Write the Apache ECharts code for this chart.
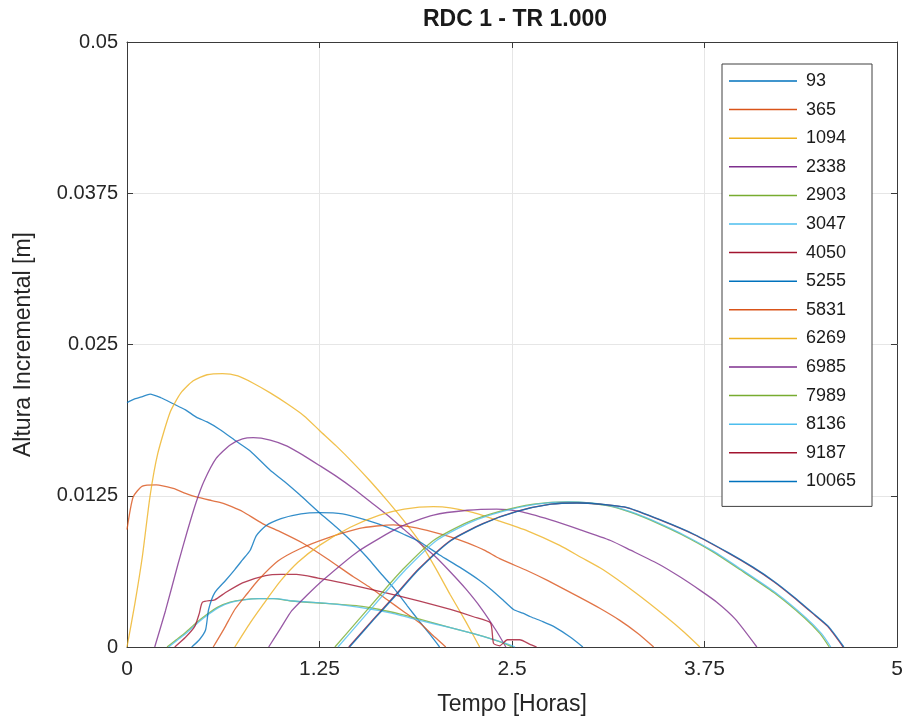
<!DOCTYPE html>
<html>
<head>
<meta charset="utf-8">
<script src="https://cdn.jsdelivr.net/npm/echarts@6/dist/echarts.min.js"></script>
<style>
html,body{margin:0;padding:0;background:#fff;}
#chart{width:910px;height:724px;}
</style>
</head>
<body>
<div id="chart"></div>
<script>
// ---- data (x = Tempo [Horas], y = Altura Incremental [m]) ----
const seriesNames = ['93','365','1094','2338','2903','3047','4050','5255','5831','6269','6985','7989','8136','9187','10065'];
const xTicks = [0, 1.25, 2.5, 3.75, 5];
const yTicks = [0, 0.0125, 0.025, 0.0375, 0.05];

const s93 = [[0,0.0202],[0.05,0.0205],[0.1,0.0207],[0.15,0.0209],[0.22,0.0206],[0.3,0.0201],[0.38,0.0196],[0.45,0.0190],[0.52,0.0186],[0.6,0.0180],[0.71,0.0170],[0.8,0.0162],[0.93,0.0146],[1.02,0.0137],[1.12,0.0126],[1.25,0.0111],[1.36,0.0099],[1.47,0.0086],[1.56,0.0074],[1.64,0.0062],[1.73,0.0049],[1.82,0.0034],[1.9,0.0021],[1.97,0.0010],[2.03,0]];
const s365 = [[0,0.0097],[0.04,0.0124],[0.1,0.0133],[0.19,0.0134],[0.3,0.0131],[0.38,0.0127],[0.45,0.0124],[0.55,0.0121],[0.62,0.0119],[0.68,0.0116],[0.75,0.0112],[0.88,0.0102],[1.0,0.0095],[1.14,0.0086],[1.3,0.0073],[1.47,0.0058],[1.58,0.0049],[1.69,0.0039],[1.8,0.0029],[1.9,0.0020],[2.0,0.0008],[2.07,0]];
const s1094 = [[0,0],[0.05,0.0035],[0.1,0.0075],[0.15,0.0125],[0.2,0.0160],[0.28,0.0194],[0.35,0.0210],[0.43,0.0220],[0.52,0.0225],[0.62,0.0226],[0.72,0.0224],[0.82,0.0218],[0.93,0.0210],[1.04,0.0201],[1.15,0.0191],[1.25,0.0179],[1.36,0.0166],[1.47,0.0152],[1.58,0.0137],[1.69,0.0121],[1.8,0.0104],[1.9,0.0087],[2.0,0.0066],[2.1,0.0043],[2.2,0.0021],[2.29,0]];
const s2338 = [[0.18,0],[0.25,0.0030],[0.33,0.0068],[0.39,0.0095],[0.45,0.0120],[0.5,0.0137],[0.58,0.0156],[0.67,0.0167],[0.75,0.0172],[0.82,0.0173],[0.93,0.0171],[1.04,0.0166],[1.15,0.0158],[1.25,0.0150],[1.36,0.0141],[1.47,0.0131],[1.58,0.0120],[1.69,0.0109],[1.8,0.0097],[1.9,0.0086],[2.0,0.0075],[2.1,0.0062],[2.2,0.0048],[2.3,0.0032],[2.4,0.0013],[2.46,0]];
const s2903 = [[0.26,0],[0.32,0.0006],[0.38,0.0012],[0.45,0.0020],[0.52,0.0027],[0.59,0.0033],[0.67,0.0037],[0.75,0.0039],[0.85,0.0040],[0.95,0.0040],[1.07,0.0038],[1.29,0.0036],[1.5,0.0034],[1.64,0.0031],[1.78,0.0027],[1.9,0.0023],[2.1,0.0016],[2.25,0.0011],[2.36,0.0007],[2.45,0.0003],[2.5,0]];
const s3047 = [[0.27,0],[0.33,0.0006],[0.39,0.0012],[0.46,0.0020],[0.53,0.0027],[0.6,0.0033],[0.68,0.0037],[0.76,0.0039],[0.86,0.0040],[0.96,0.0040],[1.08,0.0038],[1.3,0.0036],[1.5,0.0033],[1.64,0.0030],[1.78,0.0026],[1.9,0.0022],[2.1,0.0016],[2.25,0.0011],[2.36,0.0007],[2.46,0.0003],[2.52,0]];
const s4050 = [[0.31,0],[0.38,0.0008],[0.44,0.0017],[0.47,0.0028],[0.49,0.0037],[0.57,0.0039],[0.64,0.0045],[0.75,0.0053],[0.9,0.0059],[1.0,0.0060],[1.1,0.0060],[1.24,0.0057],[1.4,0.0053],[1.64,0.0046],[1.9,0.0038],[2.1,0.0031],[2.25,0.0025],[2.36,0.0020],[2.38,0.0003],[2.42,0.0001],[2.47,0.0006],[2.55,0.0006],[2.62,0.0002],[2.66,0]];
const s5255 = [[0.42,0],[0.47,0.0006],[0.51,0.0014],[0.53,0.0031],[0.57,0.0045],[0.64,0.0055],[0.7,0.0064],[0.75,0.0072],[0.8,0.0080],[0.84,0.0092],[0.9,0.0100],[1.0,0.0106],[1.13,0.0110],[1.25,0.0111],[1.4,0.0110],[1.55,0.0105],[1.69,0.0099],[1.8,0.0093],[1.9,0.0087],[2.03,0.0076],[2.16,0.0066],[2.29,0.0055],[2.37,0.0047],[2.44,0.0039],[2.51,0.0031],[2.57,0.0028],[2.62,0.0025],[2.7,0.0021],[2.77,0.0017],[2.88,0.0008],[2.96,0]];
const s5831 = [[0.56,0],[0.63,0.0015],[0.7,0.0031],[0.78,0.0044],[0.85,0.0055],[0.98,0.0071],[1.12,0.0081],[1.3,0.0090],[1.51,0.0098],[1.62,0.0100],[1.73,0.0101],[1.85,0.0099],[1.99,0.0095],[2.1,0.0091],[2.21,0.0086],[2.32,0.0080],[2.42,0.0073],[2.6,0.0063],[2.73,0.0055],[2.94,0.0041],[3.07,0.0032],[3.2,0.0022],[3.32,0.0011],[3.42,0]];
const s6269 = [[0.7,0],[0.8,0.0020],[0.9,0.0038],[1.0,0.0055],[1.11,0.0070],[1.25,0.0084],[1.45,0.0099],[1.64,0.0109],[1.8,0.0114],[1.99,0.0116],[2.1,0.0115],[2.25,0.0111],[2.42,0.0104],[2.6,0.0096],[2.81,0.0084],[2.95,0.0074],[3.09,0.0064],[3.3,0.0045],[3.5,0.0025],[3.62,0.0012],[3.72,0]];
const s6985 = [[0.92,0],[1.0,0.0016],[1.07,0.0030],[1.17,0.0043],[1.27,0.0055],[1.5,0.0079],[1.77,0.0099],[1.99,0.0109],[2.21,0.0113],[2.4,0.0114],[2.55,0.0112],[2.75,0.0105],[2.94,0.0097],[3.14,0.0088],[3.27,0.0080],[3.46,0.0068],[3.59,0.0058],[3.72,0.0047],[3.83,0.0037],[3.95,0.0023],[4.09,0]];
const s7989 = [[1.35,0],[1.5,0.0022],[1.65,0.0044],[1.79,0.0064],[1.99,0.0088],[2.21,0.0103],[2.42,0.0112],[2.64,0.0118],[2.86,0.0120],[3.0,0.0119],[3.15,0.0116],[3.3,0.0110],[3.45,0.0102],[3.6,0.0093],[3.8,0.0079],[3.98,0.0064],[4.2,0.0045],[4.4,0.0024],[4.5,0.0011],[4.56,0]];
const s8136 = [[1.37,0],[1.52,0.0022],[1.67,0.0044],[1.81,0.0064],[2.01,0.0088],[2.23,0.0103],[2.44,0.0112],[2.66,0.0118],[2.87,0.0120],[3.01,0.0119],[3.16,0.0116],[3.31,0.0110],[3.46,0.0102],[3.61,0.0093],[3.81,0.0079],[3.99,0.0064],[4.21,0.0045],[4.41,0.0024],[4.51,0.0011],[4.57,0]];
const s9187 = [[1.44,0],[1.6,0.0023],[1.75,0.0044],[1.89,0.0064],[2.1,0.0088],[2.31,0.0102],[2.53,0.0112],[2.75,0.0118],[2.92,0.0119],[3.07,0.0118],[3.25,0.0115],[3.46,0.0105],[3.68,0.0093],[3.9,0.0078],[4.06,0.0066],[4.2,0.0054],[4.32,0.0042],[4.45,0.0028],[4.55,0.0017],[4.65,0]];
const s10065 = [[1.445,0],[1.605,0.0023],[1.755,0.0044],[1.895,0.0064],[2.105,0.0088],[2.315,0.0102],[2.535,0.0112],[2.755,0.0118],[2.925,0.0119],[3.075,0.0118],[3.255,0.0115],[3.465,0.0105],[3.685,0.0093],[3.905,0.0078],[4.065,0.0066],[4.205,0.0054],[4.325,0.0042],[4.455,0.0028],[4.555,0.0017],[4.655,0]];

const seriesData = [s93,s365,s1094,s2338,s2903,s3047,s4050,s5255,s5831,s6269,s6985,s7989,s8136,s9187,s10065];
const palette = ['#0072BD','#D95319','#EDB120','#7E2F8E','#77AC30','#4DBEEE','#A2142F'];

const FONT = '"Liberation Sans", Arial, sans-serif';
const chart = echarts.init(document.getElementById('chart'), null, {renderer:'canvas'});

const series = seriesNames.map((n, i) => ({
  name: n,
  type: 'line',
  data: seriesData[i],
  showSymbol: false,
  smooth: 0.2,
  lineStyle: {width: 1.3, color: palette[i % palette.length], opacity: 0.8},
  itemStyle: {color: palette[i % palette.length]},
  xAxisIndex: 0, yAxisIndex: 0,
  animation: false
}));

const axisLineCol = '#3a3a3a';
chart.setOption({
  backgroundColor: '#ffffff',
  animation: false,
  color: palette,
  title: {
    text: 'RDC 1 - TR 1.000',
    left: 510, top: 3, textAlign: 'center',
    textStyle: {fontFamily: FONT, fontSize: 23, fontWeight: 'bold', color: '#1a1a1a'}
  },
  grid: {left: 127, right: 13, top: 42, bottom: 77, containLabel: false},
  legend: {
    data: seriesNames.map(n => ({name: n, icon: 'rect'})),
    orient: 'vertical',
    left: 722, top: 64,
    itemWidth: 68, itemHeight: 1.5,
    itemGap: 8.6,
    padding: [7, 12, 15, 7],
    backgroundColor: '#ffffff',
    borderColor: '#404040', borderWidth: 1,
    selectedMode: false,
    textStyle: {fontFamily: FONT, fontSize: 18, color: '#1a1a1a', lineHeight: 20, width: 54, padding: [0,0,0,4]}
  },
  xAxis: [{
    type: 'value', min: xTicks[0], max: xTicks[xTicks.length-1], interval: 1.25,
    name: 'Tempo [Horas]', nameLocation: 'middle', nameGap: 46,
    nameTextStyle: {fontFamily: FONT, fontSize: 23, color: '#262626'},
    axisLine: {show: true, onZero: false, lineStyle: {color: axisLineCol, width: 1}},
    axisTick: {show: true, inside: true, length: 6, lineStyle: {color: axisLineCol}},
    axisLabel: {fontFamily: FONT, fontSize: 21, color: '#262626', margin: 12},
    splitLine: {show: true, lineStyle: {color: '#e6e6e6', width: 1}}
  },{
    type: 'value', position: 'top', min: xTicks[0], max: xTicks[xTicks.length-1], interval: 1.25,
    axisLine: {show: true, onZero: false, lineStyle: {color: axisLineCol, width: 1}},
    axisTick: {show: true, inside: true, length: 6, lineStyle: {color: axisLineCol}},
    axisLabel: {show: false}, splitLine: {show: false}
  }],
  yAxis: [{
    type: 'value', min: yTicks[0], max: yTicks[yTicks.length-1], interval: 0.0125,
    name: 'Altura Incremental [m]', nameLocation: 'middle', nameGap: 92,
    nameTextStyle: {fontFamily: FONT, fontSize: 23, color: '#262626'},
    axisLine: {show: true, onZero: false, lineStyle: {color: axisLineCol, width: 1}},
    axisTick: {show: true, inside: true, length: 6, lineStyle: {color: axisLineCol}},
    axisLabel: {fontFamily: FONT, fontSize: 20, color: '#262626', margin: 9},
    splitLine: {show: true, lineStyle: {color: '#e6e6e6', width: 1}}
  },{
    type: 'value', position: 'right', min: yTicks[0], max: yTicks[yTicks.length-1], interval: 0.0125,
    axisLine: {show: true, onZero: false, lineStyle: {color: axisLineCol, width: 1}},
    axisTick: {show: true, inside: true, length: 6, lineStyle: {color: axisLineCol}},
    axisLabel: {show: false}, splitLine: {show: false}
  }],
  series: series
});
</script>
</body>
</html>
